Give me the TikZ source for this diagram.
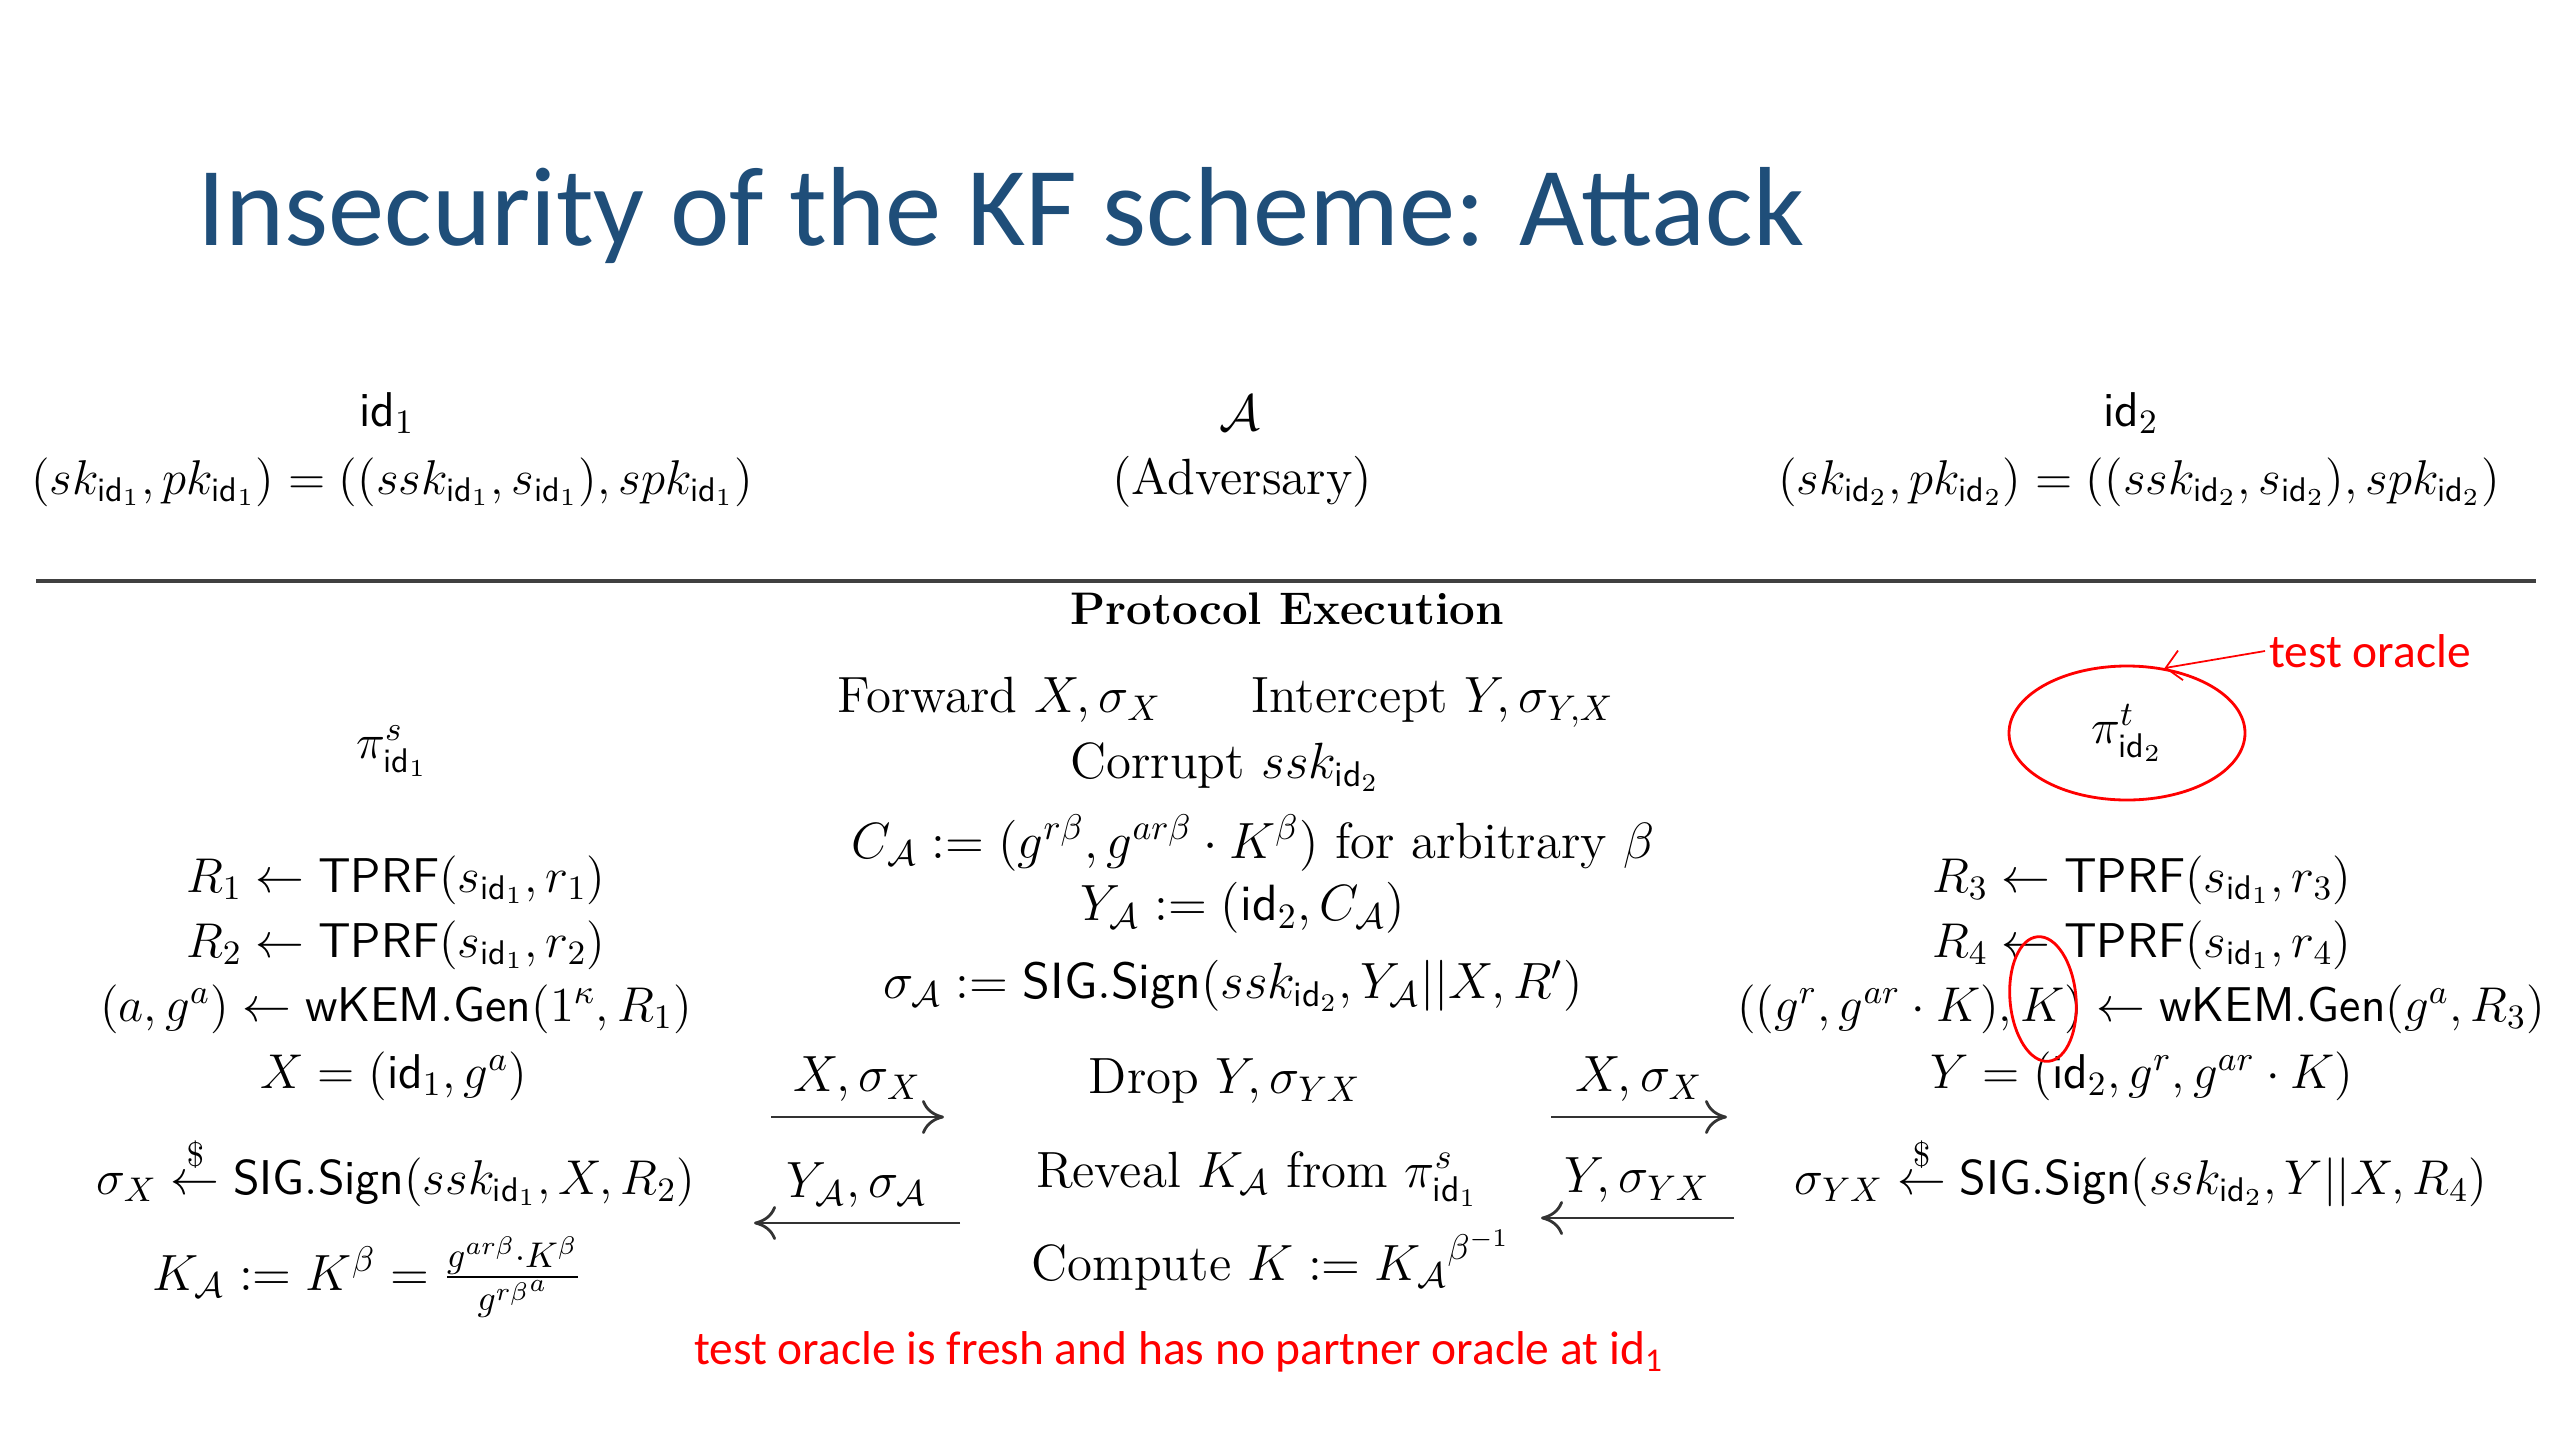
\RequirePackage{fix-cm}
\documentclass[tikz,border=0pt]{standalone}
\usepackage{amsmath}
\usepackage{fontspec}
\newfontfamily\slidefont{Carlito}
\usetikzlibrary{positioning,arrows.meta,shapes.geometric}
\definecolor{titleblue}{RGB}{31,78,121}
\newcommand{\idn}[1]{\mathsf{id}_{#1}}
\tikzset{
  every node/.style={font=\fontsize{13.9}{16}\selectfont, inner sep=1pt},
  mid/.style={font=\fontsize{14.5}{17}\selectfont},
  ttl/.style={font=\slidefont\fontsize{32}{38}\selectfont, text=titleblue, anchor=west},
  note/.style={font=\slidefont\fontsize{13.5}{16}\selectfont, text=red},
  msg/.style={-{To[length=2.2mm,width=3.4mm]}, line width=0.8pt, draw=black!80},
  ring/.style={ellipse, draw=red, line width=0.8pt, inner sep=0pt},
  hr/.style={line width=1pt, draw=black!75}
}

\begin{document}
\begin{tikzpicture}
\useasboundingbox (0,0) rectangle (25.6,-14.4);

\node[ttl] (title) at (1.93,-2.16) {Insecurity of the KF scheme: Attack};

% parties
\node (id1) at (3.87,-4.13) {$\mathsf{id}_1$};
\node (keys1) at (3.92,-4.82) {$(sk_{\idn1},pk_{\idn1})=((ssk_{\idn1},s_{\idn1}),spk_{\idn1})$};
\node[mid] (adv) at (12.40,-4.13) {$\mathcal{A}$};
\node[mid] (advname) at (12.42,-4.82) {(Adversary)};
\node (id2) at (21.31,-4.13) {$\mathsf{id}_2$};
\node (keys2) at (21.39,-4.82) {$(sk_{\idn2},pk_{\idn2})=((ssk_{\idn2},s_{\idn2}),spk_{\idn2})$};

\coordinate (hrL) at (0.36,-5.81);
\coordinate (hrR) at (25.36,-5.81);
\draw[hr] (hrL) -- (hrR);

\node[font=\fontsize{13}{15}\selectfont] (proto) at (12.87,-6.09) {\textbf{Protocol Execution}};

% adversary column
\node[mid] (fwd) at (12.26,-7.02) {Forward $X,\sigma_X$\hspace{0.9cm}Intercept $Y,\sigma_{Y,X}$};
\node[mid] (corrupt) at (12.25,-7.67) {Corrupt $ssk_{\idn2}$};
\node[mid] (ca) at (12.53,-8.43) {$C_{\mathcal{A}} := (g^{r\beta}, g^{ar\beta}\cdot K^{\beta})$ for arbitrary $\beta$};
\node[mid] (ya) at (12.43,-9.08) {$Y_{\mathcal{A}} := (\idn2, C_{\mathcal{A}})$};
\node[mid] (siga) at (12.33,-9.86) {$\sigma_{\mathcal{A}} := \mathsf{SIG.Sign}(ssk_{\idn2}, Y_{\mathcal{A}}||X, R')$};
\node[mid] (drop) at (12.25,-10.81) {Drop $Y,\sigma_{YX}$};
\node[mid] (reveal) at (12.57,-11.79) {Reveal $K_{\mathcal{A}}$ from $\pi^s_{\idn1}$};
\node[mid] (compute) at (12.71,-12.60) {Compute $K := {K_{\mathcal{A}}}^{\beta^{-1}}$};

% initiator column
\node (pi1) at (3.92,-7.51) {$\pi^s_{\idn1}$};
\node (r1) at (3.96,-8.80) {$R_1 \leftarrow \mathsf{TPRF}(s_{\idn1}, r_1)$};
\node (r2) at (3.96,-9.45) {$R_2 \leftarrow \mathsf{TPRF}(s_{\idn1}, r_2)$};
\node (gen1) at (3.96,-10.09) {$(a,g^a) \leftarrow \mathsf{wKEM.Gen}(1^{\kappa}, R_1)$};
\node (x) at (3.94,-10.76) {$X = (\idn1, g^a)$};
\node (sigx) at (3.96,-11.71) {$\sigma_X \stackrel{\$}{\leftarrow} \mathsf{SIG.Sign}(ssk_{\idn1}, X, R_2)$};
\node[mid] (ka) at (3.67,-12.77) {$K_{\mathcal{A}} := K^{\beta} = \frac{g^{ar\beta}\cdot K^{\beta}}{{g^{r\beta}}^{a}}$};

% responder column
\node[ring, minimum width=2.36cm, minimum height=1.34cm] (oracle) at (21.27,-7.33) {$\pi^t_{\idn2}$};
\node[note] (tlabel) at (23.70,-6.51) {test oracle};
\draw[red, line width=0.5pt, -{Straight Barb[length=1.5mm]}] (tlabel.west) -- (oracle.60);
\node (r3) at (21.42,-8.80) {$R_3 \leftarrow \mathsf{TPRF}(s_{\idn1}, r_3)$};
\node (r4) at (21.42,-9.45) {$R_4 \leftarrow \mathsf{TPRF}(s_{\idn1}, r_4)$};
\node (gen2) at (21.41,-10.09) {$((g^r, g^{ar}\cdot K), K) \leftarrow \mathsf{wKEM.Gen}(g^a, R_3)$};
\node (y) at (21.42,-10.76) {$Y = (\idn2, g^r, g^{ar}\cdot K)$};
\node (sigy) at (21.41,-11.71) {$\sigma_{YX} \stackrel{\$}{\leftarrow} \mathsf{SIG.Sign}(ssk_{\idn2}, Y||X, R_4)$};
\node[ring, minimum width=0.66cm, minimum height=1.25cm, rotate=5] (kring) at (20.43,-9.99) {};

% messages
\coordinate (m1a) at (7.71,-11.17);
\coordinate (m1b) at (9.44,-11.17);
\coordinate (m2a) at (9.60,-12.23);
\coordinate (m2b) at (7.54,-12.23);
\coordinate (m3a) at (15.51,-11.17);
\coordinate (m3b) at (17.27,-11.17);
\coordinate (m4a) at (17.34,-12.18);
\coordinate (m4b) at (15.41,-12.18);
\draw[msg] (m1a) -- node[mid, above=3pt] {$X,\sigma_X$} (m1b);
\draw[msg] (m2a) -- node[mid, above=3pt] {$Y_{\mathcal{A}},\sigma_{\mathcal{A}}$} (m2b);
\draw[msg] (m3a) -- node[mid, above=3pt] {$X,\sigma_X$} (m3b);
\draw[msg] (m4a) -- node[mid, above=3pt] {$Y,\sigma_{YX}$} (m4b);

\node[note] (fresh) at (11.79,-13.52) {test oracle is fresh and has no partner oracle at id\textsubscript{1}};

\end{tikzpicture}
\end{document}
